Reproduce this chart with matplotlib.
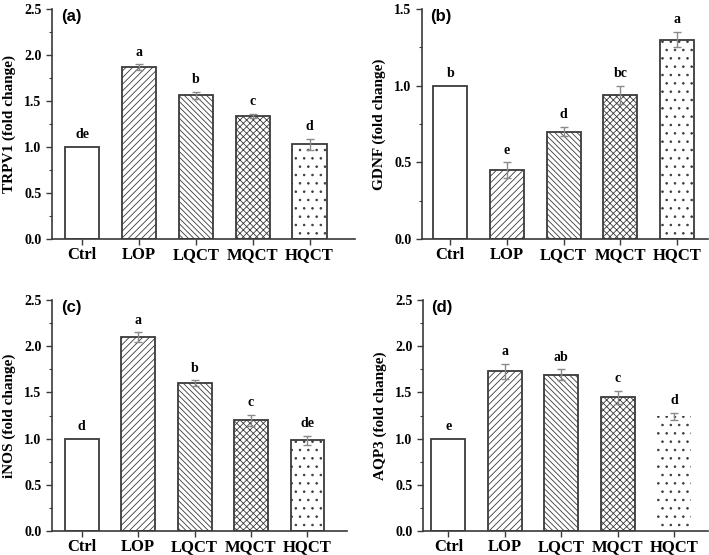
import numpy as np
import matplotlib.pyplot as plt
from matplotlib.ticker import MultipleLocator

groups = ['Ctrl', 'LOP', 'LQCT', 'MQCT', 'HQCT']

trpv1 = [1.00, 1.87, 1.56, 1.34, 1.03]
trpv1_err = [0.0, 0.03, 0.04, 0.02, 0.06]
trpv1_sig = ['de', 'a', 'b', 'c', 'd']

gdnf = [1.00, 0.45, 0.70, 0.94, 1.30]
gdnf_err = [0.0, 0.05, 0.03, 0.06, 0.05]
gdnf_sig = ['b', 'e', 'd', 'bc', 'a']

inos = [1.00, 2.10, 1.60, 1.20, 0.98]
inos_err = [0.0, 0.05, 0.03, 0.06, 0.05]
inos_sig = ['d', 'a', 'b', 'c', 'de']

aqp3 = [1.00, 1.73, 1.69, 1.45, 1.24]
aqp3_err = [0.0, 0.08, 0.06, 0.07, 0.04]
aqp3_sig = ['e', 'a', 'ab', 'c', 'd']

hatches = ['', '/////', '\\\\\\\\\\\\', 'xxxxx', '..']
serif = 'Liberation Serif'

plt.rcParams['hatch.linewidth'] = 0.6

fig = plt.figure(figsize=(7.09, 5.55), dpi=100)

panels = [
    ('(a)', 'TRPV1 (fold change)', trpv1, trpv1_err, trpv1_sig, 2.5,
     [0.0733, 0.5694, 0.4274, 0.4144], (-0.53, 4.8)),
    ('(b)', 'GDNF (fold change)', gdnf, gdnf_err, gdnf_sig, 1.5,
     [0.5952, 0.5694, 0.4034, 0.4144], (-0.5, 4.55)),
    ('(c)', 'iNOS (fold change)', inos, inos_err, inos_sig, 2.5,
     [0.0733, 0.0432, 0.4160, 0.4162], (-0.53, 4.7)),
    ('(d)', 'AQP3 (fold change)', aqp3, aqp3_err, aqp3_sig, 2.5,
     [0.5966, 0.0432, 0.4020, 0.4162], (-0.45, 4.6)),
]

x = np.arange(len(groups))
edge = '#3a3a3a'

for tag, ylab, vals, errs, sig, ymax, pos, xl in panels:
    ax = fig.add_axes(pos)
    for i in range(len(groups)):
        lw = 1.3
        if tag == '(d)' and i == 4:
            lw = 0
        ax.bar(x[i], vals[i], width=0.6, color='white', edgecolor=edge,
               linewidth=lw, hatch=hatches[i], zorder=2)
        if errs[i] > 0:
            ax.errorbar(x[i], vals[i], yerr=errs[i], fmt='none', ecolor='#8a8a8a',
                        elinewidth=1.0, capsize=3, capthick=1.0, zorder=3)
        ax.annotate(sig[i], (x[i], vals[i] + errs[i]), xytext=(0, 4),
                    textcoords='offset points', ha='center', va='bottom',
                    fontsize=10, fontweight='bold', family=serif)
    ax.set_xlim(*xl)
    ax.set_ylim(0, ymax)
    ax.yaxis.set_major_locator(MultipleLocator(0.5))
    ax.yaxis.set_minor_locator(MultipleLocator(0.25))
    ax.set_xticks(x)
    ax.set_xticklabels(groups, fontsize=12, fontweight='bold', family=serif)
    ax.set_yticks(np.arange(0, ymax + 0.01, 0.5))
    ax.set_yticklabels([f'{v:.1f}' for v in np.arange(0, ymax + 0.01, 0.5)],
                       fontsize=10, fontweight='bold', family=serif)
    ax.set_ylabel(ylab, fontsize=11, fontweight='bold', family=serif, labelpad=6)
    for s in ['top', 'right']:
        ax.spines[s].set_visible(False)
    for s in ['left', 'bottom']:
        ax.spines[s].set_linewidth(1.2)
        ax.spines[s].set_color(edge)
    ax.tick_params(axis='both', which='major', direction='out', length=4,
                   width=1.0, color=edge)
    ax.tick_params(axis='y', which='minor', direction='out', length=2.5,
                   width=0.8, color=edge)
    ax.tick_params(axis='x', pad=2)
    ax.text(0.03, 1.0, tag, transform=ax.transAxes, fontsize=12,
            fontweight='bold', family='Liberation Sans', va='top', ha='left')

fig.savefig('out.png', dpi=100)
